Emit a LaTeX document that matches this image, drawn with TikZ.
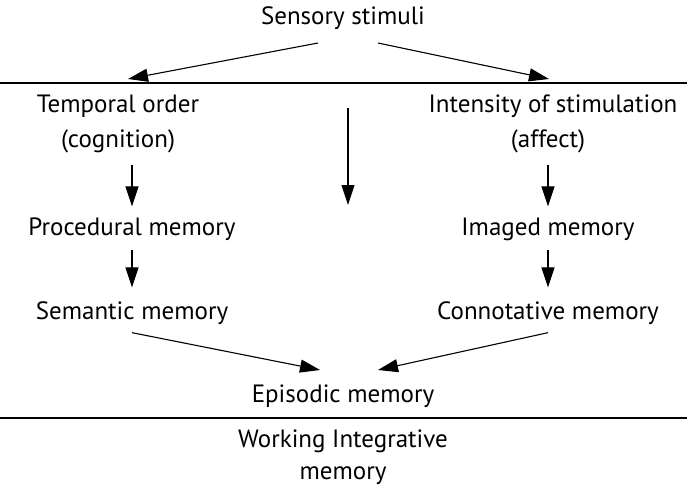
\documentclass[tikz,border=0pt]{standalone}
\usepackage{fontspec}
\setmainfont{PT Sans}
\usetikzlibrary{arrows.meta}

\begin{document}
\begin{tikzpicture}[x=1pt, y=-1pt,
        lbl/.style={font=\fontsize{25}{30}\selectfont, inner sep=0pt},
        arr/.style={-{Triangle[length=20pt,width=13pt]}, line width=1.1pt}]

        % fix the size of the picture
        \useasboundingbox (0,0) rectangle (687,487);

        % top and bottom rules
        \draw[line width=1.3pt] (0,83) -- (687,83);
        \draw[line width=1.3pt] (0,418) -- (687,418);

        % labels
        \node[lbl] (stim) at (343,18) {Sensory stimuli};
        \node[lbl] (temp) at (118,106) {Temporal order};
        \node[lbl] (cogn) at (118,141) {(cognition)};
        \node[lbl] (inten) at (553,106) {Intensity of stimulation};
        \node[lbl] (affe) at (548,141) {(affect)};
        \node[lbl] (proc) at (132,229) {Procedural memory};
        \node[lbl] (imag) at (548,229) {Imaged memory};
        \node[lbl] (sema) at (132,313) {Semantic memory};
        \node[lbl] (conn) at (548,313) {Connotative memory};
        \node[lbl] (epis) at (343,396) {Episodic memory};
        \node[lbl] (work) at (343,441) {Working Integrative};
        \node[lbl] (wmem) at (343,476) {memory};

        % free ends of the arrows
        \coordinate (sl) at (318,43);
        \coordinate (sr) at (378,43);
        \coordinate (tl) at (128,79);
        \coordinate (tr) at (549,79);
        \coordinate (mtop) at (348,108);
        \coordinate (mbot) at (348,205);
        \coordinate (el) at (320,370);
        \coordinate (er) at (378,370);

        % arrows from the stimuli
        \draw[arr] (sl) -- (tl);
        \draw[arr] (sr) -- (tr);
        \draw[arr] (mtop) -- (mbot);

        % arrows down each side
        \draw[arr] ([yshift=-12pt]cogn.south -| proc.north) -- ([yshift=11pt]proc.north);
        \draw[arr] ([yshift=-12pt]affe.south) -- ([yshift=11pt]imag.north);
        \draw[arr] ([yshift=-9pt]proc.south) -- ([yshift=14pt]sema.north);
        \draw[arr] ([yshift=-9pt]imag.south) -- ([yshift=14pt]conn.north);

        % arrows to episodic memory
        \draw[arr] ([yshift=-8pt]sema.south) -- (el);
        \draw[arr] ([yshift=-8pt]conn.south) -- (er);

\end{tikzpicture}
\end{document}
